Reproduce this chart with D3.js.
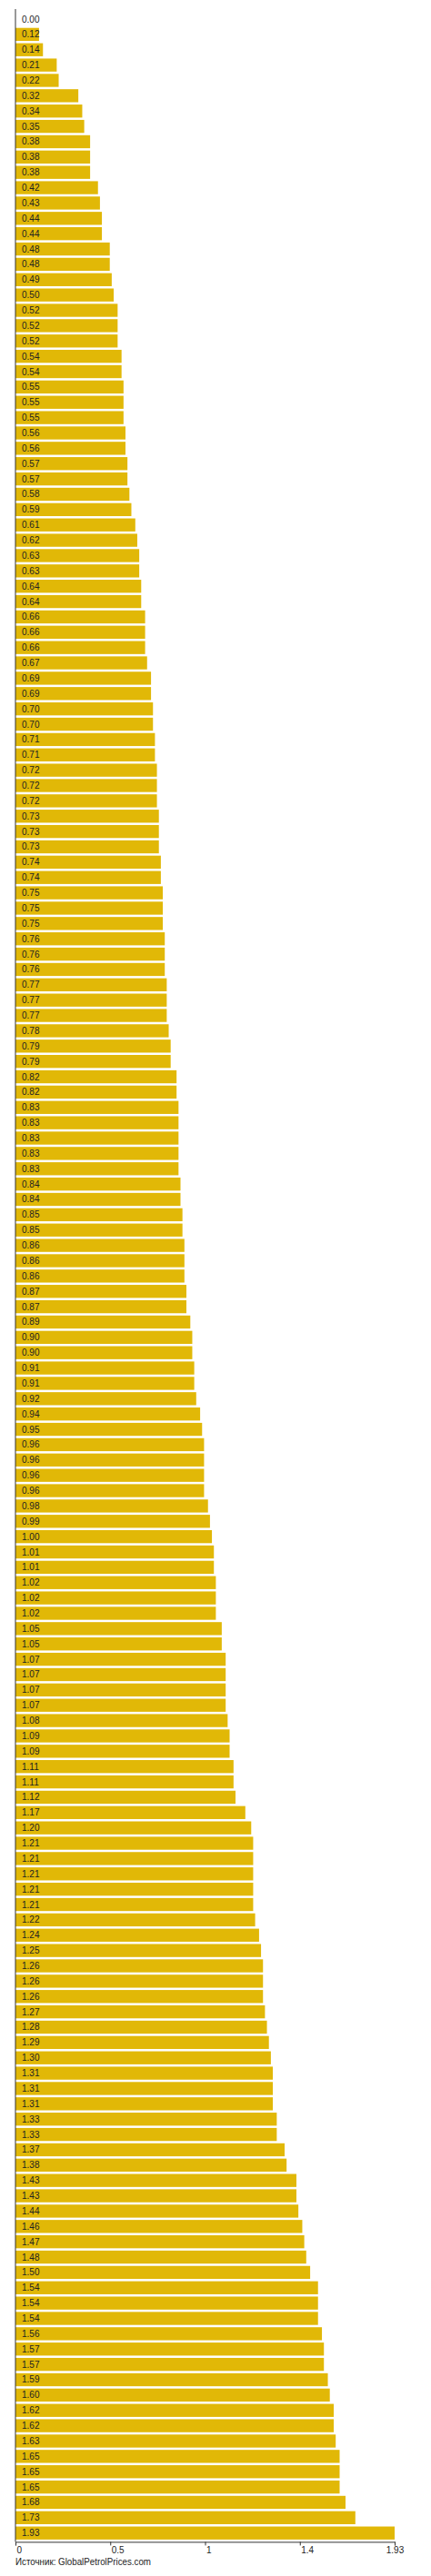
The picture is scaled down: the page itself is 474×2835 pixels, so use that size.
<!DOCTYPE html>
<html><head><meta charset="utf-8">
<script src="https://cdn.jsdelivr.net/npm/d3@7"></script>
<style>
html,body{margin:0;padding:0;background:#fff;}
svg{display:block;font-family:Arial,"Liberation Sans",sans-serif;}
</style></head>
<body>
<svg id="chart" width="474" height="2835"></svg>
<script>
const values = [
0.00,0.12,0.14,0.21,0.22,0.32,0.34,0.35,0.38,0.38,
0.38,0.42,0.43,0.44,0.44,0.48,0.48,0.49,0.50,0.52,
0.52,0.52,0.54,0.54,0.55,0.55,0.55,0.56,0.56,0.57,
0.57,0.58,0.59,0.61,0.62,0.63,0.63,0.64,0.64,0.66,
0.66,0.66,0.67,0.69,0.69,0.70,0.70,0.71,0.71,0.72,
0.72,0.72,0.73,0.73,0.73,0.74,0.74,0.75,0.75,0.75,
0.76,0.76,0.76,0.77,0.77,0.77,0.78,0.79,0.79,0.82,
0.82,0.83,0.83,0.83,0.83,0.83,0.84,0.84,0.85,0.85,
0.86,0.86,0.86,0.87,0.87,0.89,0.90,0.90,0.91,0.91,
0.92,0.94,0.95,0.96,0.96,0.96,0.96,0.98,0.99,1.00,
1.01,1.01,1.02,1.02,1.02,1.05,1.05,1.07,1.07,1.07,
1.07,1.08,1.09,1.09,1.11,1.11,1.12,1.17,1.20,1.21,
1.21,1.21,1.21,1.21,1.22,1.24,1.25,1.26,1.26,1.26,
1.27,1.28,1.29,1.30,1.31,1.31,1.31,1.33,1.33,1.37,
1.38,1.43,1.43,1.44,1.46,1.47,1.48,1.50,1.54,1.54,
1.54,1.56,1.57,1.57,1.59,1.60,1.62,1.62,1.63,1.65,
1.65,1.65,1.68,1.73,1.93
];
const categories = values.map((v,i)=>"c"+i);
const tickValues = [0, 0.4825, 0.965, 1.4475, 1.93];
const tickLabels = ["0","0.5","1","1.4","1.93"];
const sourceText = "Источник: GlobalPetrolPrices.com";

const svg = d3.select("#chart");
const x0 = 17, x1 = 434, yTop = 11.3, yBot = 2797.4;
const x = d3.scaleLinear().domain([0, 1.93]).range([x0, x1]);
const y = d3.scaleBand().domain(categories).range([yTop, yBot]).paddingInner(0.15).paddingOuter(0.15);

const barColor = "#e1b807";

svg.append("g").selectAll("rect").data(values).join("rect")
  .attr("x", x(0))
  .attr("y", (d,i)=>y(categories[i]))
  .attr("width", d=>Math.max(0, x(d)-x(0)))
  .attr("height", y.bandwidth())
  .attr("fill", barColor);

svg.append("g").selectAll("text").data(values).join("text")
  .attr("x", x(0)+7)
  .attr("y", (d,i)=>y(categories[i]) + y.bandwidth()/2)
  .attr("dy", "0.35em")
  .attr("font-size", 10)
  .attr("fill", "#222")
  .text(d=>d.toFixed(2));

// left axis line
svg.append("line").attr("x1", x0).attr("x2", x0).attr("y1", 10).attr("y2", yBot)
  .attr("stroke", "#333").attr("stroke-width", 1);

// bottom axis
const axisG = svg.append("g").attr("transform", `translate(0,${yBot})`);
const axis = d3.axisBottom(x).tickValues(tickValues).tickSize(4)
  .tickFormat((d,i)=>tickLabels[i]);
axisG.call(axis);
axisG.select(".domain").attr("stroke","#333");
axisG.selectAll(".tick line").attr("stroke","#333");
axisG.selectAll(".tick text")
  .attr("font-size", 10).attr("font-family","Arial, 'Liberation Sans', sans-serif")
  .attr("fill","#222")
  .attr("y", 6)
  .attr("text-anchor", (d,i)=> i===tickValues.length-1 ? "middle" : "start")
  .attr("x", (d,i)=> i===tickValues.length-1 ? 0 : 1);

svg.append("text").attr("x", 17).attr("y", 2823).attr("font-size", 10.3).attr("fill","#222")
  .attr("textLength", 149).attr("lengthAdjust", "spacingAndGlyphs").text(sourceText);
</script>
</body></html>
